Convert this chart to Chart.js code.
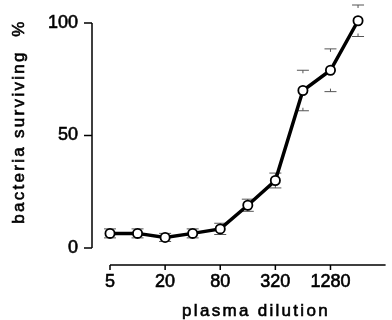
<!DOCTYPE html>
<html>
<head>
<meta charset="utf-8">
<script src="https://cdn.jsdelivr.net/npm/chart.js@4.4.1/dist/chart.umd.min.js"></script>
<style>
  html, body { margin: 0; padding: 0; background: #fff; }
  canvas { display: block; }
</style>
</head>
<body>
<canvas id="survivalChart" width="392" height="320"></canvas>
<script>
// plasma dilution (1:x) vs % bacteria surviving
const dilutions = [5, 10, 20, 40, 80, 160, 320, 640, 1280, 2560];
const surviving = [6.5, 6.5, 4.7, 6.5, 8.5, 19, 30, 70, 79, 101];
const errors = [2, 2, 1.8, 2, 2.5, 2.7, 3.3, 9, 9.5, 7];
const xTicks = [5, 20, 80, 320, 1280];
const yTicks = [0, 50, 100];

const FONT = '"Liberation Sans", Arial, sans-serif';
Chart.defaults.font.family = FONT;
Chart.defaults.color = '#000';

// error bar caps, drawn under the markers
const errorBars = {
    id: 'errorBars',
    beforeDatasetsDraw(chart) {
        const ctx = chart.ctx;
        const xs = chart.scales.x, ys = chart.scales.y;
        ctx.save();
        ctx.strokeStyle = '#555';
        ctx.lineWidth = 1;
        dilutions.forEach(function (d, i) {
            const x = xs.getPixelForValue(d);
            const hi = ys.getPixelForValue(surviving[i] + errors[i]);
            const lo = ys.getPixelForValue(surviving[i] - errors[i]);
            ctx.beginPath();
            ctx.moveTo(x - 6, hi); ctx.lineTo(x + 6, hi);
            ctx.moveTo(x - 6, lo); ctx.lineTo(x + 6, lo);
            ctx.moveTo(x, hi); ctx.lineTo(x, hi + 3);
            ctx.moveTo(x, lo); ctx.lineTo(x, lo - 3);
            ctx.stroke();
        });
        ctx.restore();
    }
};

// detached axis lines + spaced axis titles
const axesAndTitles = {
    id: 'axesAndTitles',
    afterDraw(chart) {
        const ctx = chart.ctx;
        const area = chart.chartArea;
        const xs = chart.scales.x, ys = chart.scales.y;
        ctx.save();
        ctx.strokeStyle = '#000';
        ctx.lineWidth = 1.5;

        // y axis
        const ax = area.left - 18;
        ctx.beginPath();
        ctx.moveTo(ax, ys.getPixelForValue(100));
        ctx.lineTo(ax, ys.getPixelForValue(0));
        yTicks.forEach(function (v) {
            const y = ys.getPixelForValue(v);
            ctx.moveTo(ax - 8, y);
            ctx.lineTo(ax, y);
        });
        ctx.stroke();

        // x axis
        const ay = area.bottom + 17;
        ctx.beginPath();
        ctx.moveTo(xs.getPixelForValue(5), ay);
        ctx.lineTo(area.right, ay);
        xTicks.forEach(function (v) {
            const x = xs.getPixelForValue(v);
            ctx.moveTo(x, ay);
            ctx.lineTo(x, ay + 5);
        });
        ctx.stroke();

        // titles (thin stroke to thicken like the print)
        ctx.fillStyle = '#000';
        ctx.lineWidth = 0.6;
        ctx.font = '17px ' + FONT;
        ctx.letterSpacing = '2.3px';
        ctx.textAlign = 'center';
        ctx.textBaseline = 'alphabetic';
        const label = function (txt, x, y) {
            ctx.fillText(txt, x, y);
            ctx.strokeText(txt, x, y);
        };
        label('plasma dilution', 256, area.bottom + 68);

        ctx.translate(24, 0);
        ctx.rotate(-Math.PI / 2);
        label('bacteria surviving', -137, 0);
        label('%', -28, 0);
        ctx.restore();
    }
};

const ctx = document.getElementById('survivalChart').getContext('2d');

new Chart(ctx, {
    type: 'line',
    data: {
        datasets: [{
            data: dilutions.map(function (d, i) { return { x: d, y: surviving[i] }; }),
            borderColor: '#000',
            borderWidth: 3.5,
            pointRadius: 4.6,
            pointBorderWidth: 1.8,
            pointBackgroundColor: '#fff',
            pointBorderColor: '#000',
            tension: 0,
            clip: false
        }]
    },
    options: {
        responsive: false,
        animation: false,
        layout: { padding: { top: 23, right: 0, bottom: 0, left: 0 } },
        plugins: {
            legend: { display: false },
            tooltip: { enabled: false }
        },
        scales: {
            x: {
                type: 'logarithmic',
                min: 5,
                max: 5120,
                grid: { display: false, drawTicks: false },
                border: { display: false },
                afterBuildTicks: function (scale) {
                    scale.ticks = xTicks.map(function (v) { return { value: v }; });
                },
                afterFit: function (scale) {
                    scale.height = 72;
                    scale.paddingLeft = 0;
                    scale.paddingRight = 0;
                },
                ticks: {
                    autoSkip: false,
                    maxRotation: 0,
                    padding: 23,
                    font: { size: 18 },
                    textStrokeColor: '#000',
                    textStrokeWidth: 0.6,
                    callback: function (v) { return String(v); }
                }
            },
            y: {
                min: 0,
                max: 100,
                grid: { display: false, drawTicks: false },
                border: { display: false },
                afterBuildTicks: function (scale) {
                    scale.ticks = yTicks.map(function (v) { return { value: v }; });
                },
                afterFit: function (scale) {
                    scale.width = 110;
                    scale.paddingTop = 0;
                    scale.paddingBottom = 0;
                },
                ticks: {
                    padding: 32,
                    font: { size: 18 },
                    textStrokeColor: '#000',
                    textStrokeWidth: 0.6,
                    callback: function (v) { return String(v); }
                }
            }
        }
    },
    plugins: [errorBars, axesAndTitles]
});
</script>
</body>
</html>
